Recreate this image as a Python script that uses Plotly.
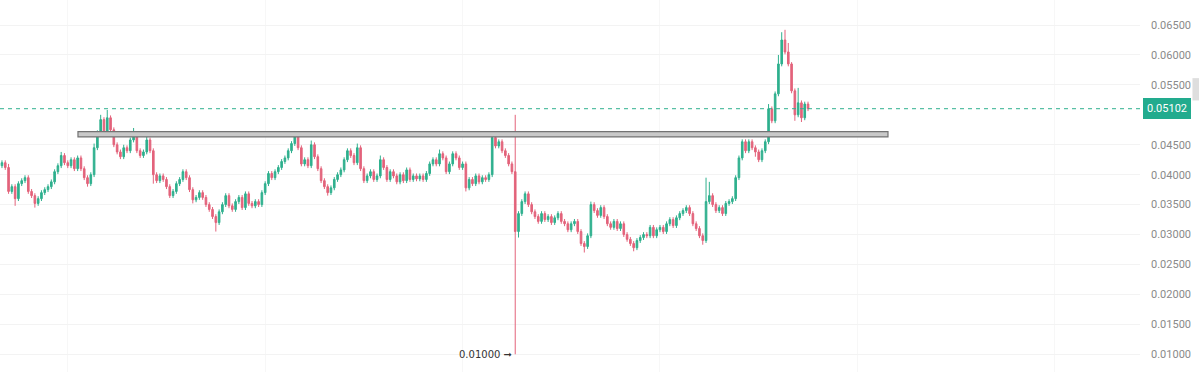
import plotly.graph_objects as go

# Close prices, one per candle (oldest -> newest)
closes = [
    0.0420, 0.0412, 0.0372, 0.0380, 0.0360, 0.0385, 0.0390, 0.0395, 0.0372, 0.0365,
    0.0352, 0.0360, 0.0370, 0.0375, 0.0380, 0.0388, 0.0405, 0.0415, 0.0432, 0.0420,
    0.0415, 0.0425, 0.0410, 0.0428, 0.0410, 0.0395, 0.0385, 0.0400, 0.0445, 0.0470,
    0.0492, 0.0470, 0.0495, 0.0475, 0.0450, 0.0438, 0.0430, 0.0445, 0.0440, 0.0458,
    0.0468, 0.0440, 0.0432, 0.0438, 0.0458, 0.0440, 0.0400, 0.0390, 0.0398, 0.0392,
    0.0380, 0.0365, 0.0372, 0.0385, 0.0392, 0.0405, 0.0395, 0.0375, 0.0358, 0.0362,
    0.0370, 0.0362, 0.0350, 0.0342, 0.0330, 0.0320, 0.0338, 0.0350, 0.0365, 0.0348,
    0.0342, 0.0355, 0.0362, 0.0345, 0.0368, 0.0352, 0.0348, 0.0355, 0.0350, 0.0370,
    0.0385, 0.0402, 0.0395, 0.0405, 0.0412, 0.0422, 0.0428, 0.0440, 0.0452, 0.0465,
    0.0445, 0.0418, 0.0425, 0.0415, 0.0450, 0.0430, 0.0410, 0.0390, 0.0380, 0.0370,
    0.0378, 0.0392, 0.0400, 0.0408, 0.0425, 0.0440, 0.0432, 0.0420, 0.0445, 0.0410,
    0.0390, 0.0398, 0.0405, 0.0392, 0.0398, 0.0425, 0.0412, 0.0392, 0.0405, 0.0398,
    0.0388, 0.0400, 0.0390, 0.0408, 0.0392, 0.0398, 0.0393, 0.0398, 0.0392, 0.0402,
    0.0418, 0.0425, 0.0418, 0.0435, 0.0428, 0.0405, 0.0418, 0.0435, 0.0428, 0.0412,
    0.0418, 0.0378, 0.0392, 0.0385, 0.0398, 0.0388, 0.0395, 0.0392, 0.0400, 0.0462,
    0.0448, 0.0455, 0.0440, 0.0432, 0.0418, 0.0405, 0.0305, 0.0335, 0.0355, 0.0368,
    0.0350, 0.0338, 0.0330, 0.0322, 0.0335, 0.0325, 0.0330, 0.0320, 0.0328, 0.0335,
    0.0322, 0.0318, 0.0308, 0.0318, 0.0322, 0.0305, 0.0285, 0.0280, 0.0298, 0.0350,
    0.0340, 0.0332, 0.0345, 0.0330, 0.0318, 0.0312, 0.0322, 0.0310, 0.0318, 0.0300,
    0.0292, 0.0285, 0.0278, 0.0290, 0.0295, 0.0300, 0.0298, 0.0312, 0.0298, 0.0308,
    0.0312, 0.0305, 0.0318, 0.0325, 0.0315, 0.0328, 0.0335, 0.0340, 0.0345, 0.0335,
    0.0318, 0.0310, 0.0298, 0.0290, 0.0355, 0.0365, 0.0350, 0.0340, 0.0345, 0.0335,
    0.0352, 0.0355, 0.0360, 0.0395, 0.0428, 0.0455, 0.0440, 0.0455, 0.0445, 0.0438,
    0.0425, 0.0440, 0.0455, 0.0510, 0.0490, 0.0535, 0.0585, 0.0625, 0.0605, 0.0585,
    0.0540, 0.0500, 0.0520, 0.0495, 0.0518, 0.05102,
]
first_open = 0.0415

# Notable wick extremes (candle index -> price)
high_marks = {2: 0.0418, 18: 0.0438, 28: 0.0452, 30: 0.0500, 32: 0.0508, 37: 0.0450,
              40: 0.0478, 44: 0.0468, 89: 0.0473, 94: 0.0457, 108: 0.0452,
              115: 0.0432, 133: 0.0442, 149: 0.0472, 156: 0.0500, 159: 0.0372,
              179: 0.0355, 214: 0.0395, 215: 0.0388, 233: 0.0518, 236: 0.0600,
              237: 0.0638, 238: 0.0642, 239: 0.0620, 240: 0.0588, 242: 0.0545}
low_marks = {4: 0.0348, 10: 0.0345, 26: 0.0380, 46: 0.0385, 58: 0.0352, 65: 0.0305,
             99: 0.0365, 141: 0.0372, 156: 0.0100, 157: 0.0295, 177: 0.0270,
             192: 0.0272, 213: 0.0283, 229: 0.0430, 241: 0.0490, 243: 0.0488}
wick = 0.0004

last_price = 0.05102
zone_low, zone_high = 0.0463, 0.0472
zone_start, zone_end = 23.1, 269.3
y_ticks = [0.065, 0.060, 0.055, 0.045, 0.040, 0.035, 0.030, 0.025, 0.020, 0.015, 0.010]

n = len(closes)
idx = list(range(n))
opens = [first_open] + closes[:-1]
highs = [high_marks.get(i, max(opens[i], closes[i]) + wick) for i in idx]
lows = [low_marks.get(i, min(opens[i], closes[i]) - wick) for i in idx]

UP = "#2fb08e"
DOWN = "#e3637b"

fig = go.Figure(go.Candlestick(
    x=idx, open=opens, high=highs, low=lows, close=closes,
    increasing=dict(line=dict(color=UP, width=1), fillcolor=UP),
    decreasing=dict(line=dict(color=DOWN, width=1), fillcolor=DOWN),
    whiskerwidth=0, showlegend=False, hoverinfo="skip",
))

# Support zone rectangle
fig.add_shape(type="rect", xref="x", yref="y", x0=zone_start, x1=zone_end,
              y0=zone_low, y1=zone_high, fillcolor="#c9c9c9",
              line=dict(color="#737373", width=1.2), layer="above")

# Last price dashed line
fig.add_shape(type="line", xref="paper", yref="y", x0=0, x1=1,
              y0=last_price, y1=last_price,
              line=dict(color="#2fb08e", width=1, dash="4px,4px"))

# Last price label
fig.add_annotation(xref="paper", yref="y", x=1, y=last_price, xanchor="left",
                   yanchor="middle", xshift=3, text="0.05102", showarrow=False,
                   bgcolor="#22ab8e", bordercolor="#22ab8e", borderpad=3,
                   font=dict(family="Roboto, sans-serif", size=11, color="white"))

# Low marker text
fig.add_annotation(xref="x", yref="y", x=156, y=lows[156], xanchor="right",
                   yanchor="middle", xshift=-1, text="0.01000 ➞", showarrow=False,
                   font=dict(family="DejaVu Sans, sans-serif", size=10, color="#333333"))

# small side tab
fig.add_shape(type="rect", xref="paper", yref="paper", x0=1.046, x1=1.06,
              y0=0.73, y1=0.79, fillcolor="#dedede", line=dict(width=0))

fig.update_layout(
    width=1199, height=372,
    margin=dict(l=0, r=59, t=0, b=0),
    paper_bgcolor="white", plot_bgcolor="white",
    xaxis=dict(range=[-0.6, 345.9], rangeslider=dict(visible=False),
               showticklabels=False, showgrid=True, gridcolor="#f7f7f7",
               dtick=60, tick0=20, zeroline=False, showline=False, ticks=""),
    yaxis=dict(side="right", range=[0.00704, 0.06918], tickvals=y_ticks,
               tickformat=".5f", showgrid=True, gridcolor="#f3f3f3",
               zeroline=False, showline=False, ticks="", ticklabelstandoff=10,
               tickfont=dict(family="Roboto, sans-serif", size=11, color="#8a8a8a")),
)

fig.write_html("out.html", config={"displayModeBar": False},
               post_script="document.body.style.margin='0';document.body.style.overflow='hidden';")
